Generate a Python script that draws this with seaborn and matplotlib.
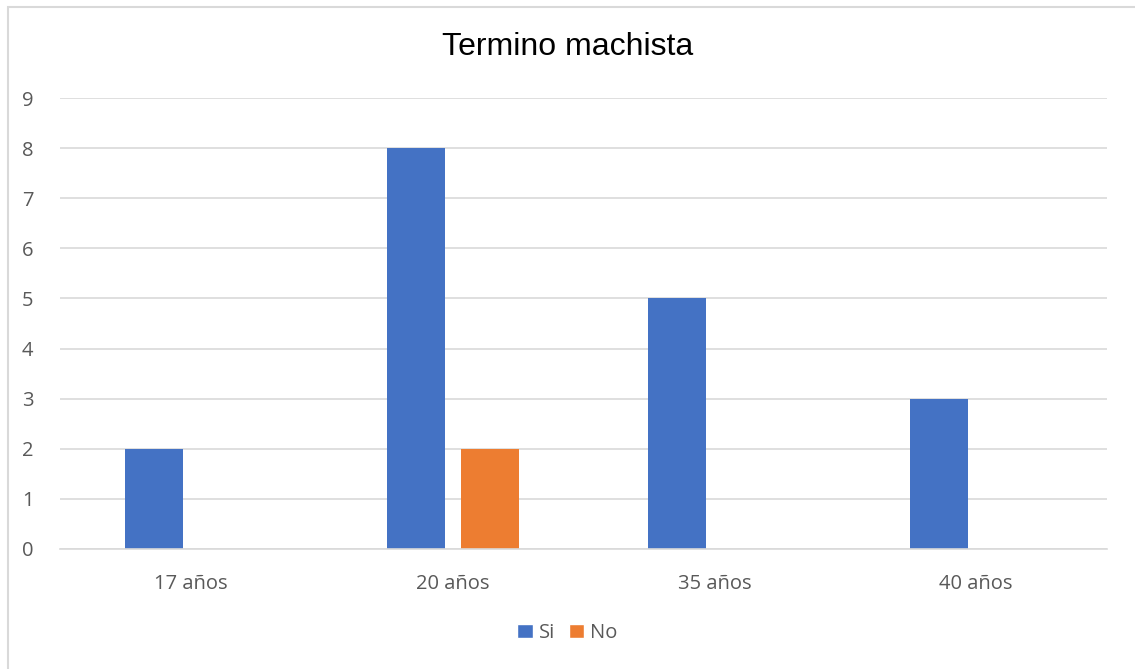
import matplotlib
matplotlib.use("Agg")
import matplotlib.pyplot as plt
import seaborn as sns
import pandas as pd
from matplotlib.patches import Rectangle, Patch

categories = ["17 años", "20 años", "35 años", "40 años"]
si_values = [2, 8, 5, 3]
no_values = [0, 2, 0, 0]
series_names = ["Si", "No"]
title = "Termino machista"

rows = []
for c, s, n in zip(categories, si_values, no_values):
    rows.append({"cat": c, "serie": "Si", "val": s})
    rows.append({"cat": c, "serie": "No", "val": n})
df = pd.DataFrame(rows)

sns.set_theme(style="white")
plt.rcParams['font.family'] = ['Open Sans', 'DejaVu Sans']

fig = plt.figure(figsize=(11.35, 6.69), dpi=100)
ax = fig.add_axes([60/1135, 1-549/669, (1107-60)/1135, (549-98)/669])

sns.barplot(data=df, x="cat", y="val", hue="serie", order=categories,
            hue_order=series_names, palette=["#4472C4", "#ED7D31"],
            width=0.565, gap=0.216, saturation=1, ax=ax, legend=False,
            errorbar=None, linewidth=0)

ax.set_ylim(0, 9)
ax.set_xlim(-0.5, 3.5)
ax.set_yticks(range(0, 10))
ax.yaxis.grid(True, color="#D9D9D9", linewidth=1.2)
ax.set_axisbelow(True)
for s in ["top", "right", "left"]:
    ax.spines[s].set_visible(False)
ax.spines["bottom"].set_color("#D9D9D9")
ax.spines["bottom"].set_linewidth(1.2)
ax.tick_params(axis="both", length=0, colors="#595959", labelsize=14.5)
ax.tick_params(axis="y", pad=19)
ax.tick_params(axis="x", pad=18)
ax.set_xlabel("")
ax.set_ylabel("")

fig.text(0.5, 1-47/669, title, ha="center", va="center", fontsize=23,
         family=["Liberation Sans", "DejaVu Sans"], color="#000000")

handles = [Patch(facecolor="#4472C4"), Patch(facecolor="#ED7D31")]
fig.legend(handles, series_names, loc="center", bbox_to_anchor=(0.5, 1-633/669),
           ncol=2, frameon=False, fontsize=14.5, labelcolor="#595959",
           handlelength=0.75, handleheight=0.75, handletextpad=0.3, columnspacing=0.7)

fig.patches.append(Rectangle((8/1135, -0.1), 1.2, 1.1-7/669, transform=fig.transFigure,
                             fill=False, edgecolor="#D9D9D9", linewidth=1.5))

fig.savefig("out.png", dpi=100)
